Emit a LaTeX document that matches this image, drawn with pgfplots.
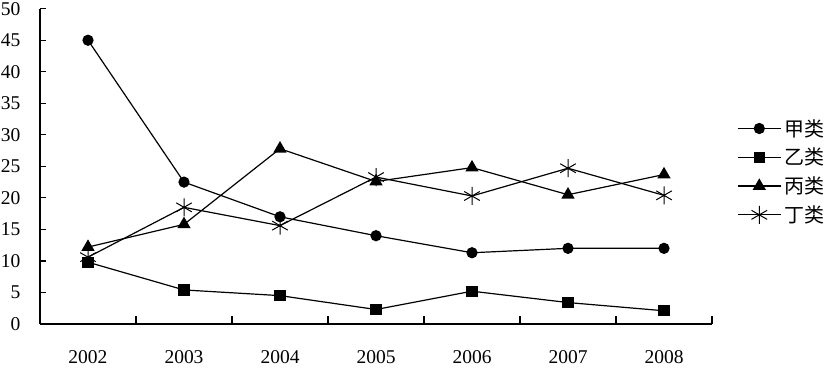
\documentclass[border=0pt]{standalone}
\usepackage{pgfplots}
\pgfplotsset{compat=1.18}
\usepackage{fontspec}
\setmainfont{Liberation Serif}
\newfontfamily\cjk{Noto Sans CJK SC}
\begin{document}
\begin{tikzpicture}
\useasboundingbox (0,0) rectangle (825pt,370pt);
\begin{axis}[
  at={(40pt,46pt)}, anchor=south west,
  scale only axis, width=672pt, height=315.3pt,
  xmin=-0.5, xmax=6.5, ymin=0, ymax=50,
  axis x line*=bottom, axis y line*=left,
  axis line style={line width=1.2pt, -},
  xtick={0,...,6},
  xticklabels={2002,2003,2004,2005,2006,2007,2008},
  minor xtick={-0.5,0.5,...,6.5},
  ytick={0,5,...,50},
  tick align=inside,
  major x tick style={draw=none},
  minor tick length=8pt, major tick length=6pt,
  tick style={line width=1.2pt, black},
  every tick label/.append style={font=\fontsize{19.5}{21}\selectfont},
  /pgf/number format/assume math mode=true,
  xticklabel style={yshift=-23pt},
  yticklabel style={xshift=-16pt},
  legend style={draw=none, fill=none, at={(1,0.656)}, anchor=north west, xshift=25pt,
    font=\cjk\fontsize{20}{21}\selectfont, row sep=6.5pt, inner sep=0pt,
    legend cell align=left, nodes={inner xsep=3pt}},
  legend image code/.code={\draw[mark repeat=2,mark phase=2] plot coordinates {(0pt,0pt) (21.5pt,0pt) (43pt,0pt)};},
  every axis plot/.append style={black, line width=1.2pt},
]
\addplot[mark=*, mark size=5pt] coordinates {(0,45) (1,22.5) (2,17.0) (3,14.0) (4,11.3) (5,12.0) (6,12.0)};
\addlegendentry{甲类}
\addplot[mark=square*, mark size=5pt] coordinates {(0,9.8) (1,5.4) (2,4.5) (3,2.3) (4,5.2) (5,3.4) (6,2.1)};
\addlegendentry{乙类}
\addplot[mark=triangle*, mark size=6.5pt] coordinates {(0,12.2) (1,15.8) (2,27.8) (3,22.6) (4,24.8) (5,20.5) (6,23.7)};
\addlegendentry{丙类}
\addplot[mark=asterisk, mark size=9pt, mark options={line width=1pt}] coordinates {(0,10.6) (1,18.5) (2,15.6) (3,23.3) (4,20.3) (5,24.7) (6,20.4)};
\addlegendentry{丁类}
\end{axis}
\end{tikzpicture}
\end{document}
